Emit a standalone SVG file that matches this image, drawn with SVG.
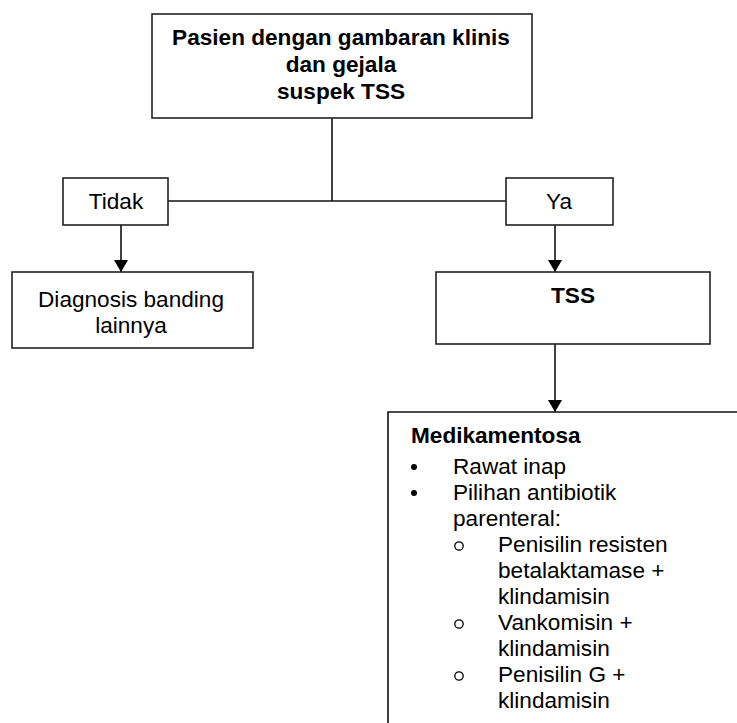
<svg xmlns="http://www.w3.org/2000/svg" width="737" height="723" viewBox="0 0 737 723">
  <style>
    .box { fill: #ffffff; stroke: #222222; stroke-width: 1.6; }
    .line { fill: none; stroke: #111111; stroke-width: 1.6; }
    .t { font-family: "Liberation Sans", Arial, sans-serif; font-size: 22.6px; fill: #000000; }
    .b { font-weight: bold; }
    .c { text-anchor: middle; }
  </style>
  <defs>
    <marker id="arrow" viewBox="0 0 12 14" refX="12" refY="7" markerWidth="12" markerHeight="14" markerUnits="userSpaceOnUse" orient="auto">
      <path d="M0,0 L12,7 L0,14 z" fill="#000000"/>
    </marker>
  </defs>
  <rect width="737" height="723" fill="#ffffff"/>

  <g id="connectors">
    <line class="line" x1="332" y1="118" x2="332" y2="201"/>
    <line class="line" x1="168" y1="201" x2="506" y2="201"/>
    <line class="line" x1="121" y1="225" x2="121" y2="272" marker-end="url(#arrow)"/>
    <line class="line" x1="555" y1="225" x2="555" y2="272" marker-end="url(#arrow)"/>
    <line class="line" x1="555" y1="344" x2="555" y2="412" marker-end="url(#arrow)"/>
  </g>

  <g id="start">
    <rect class="box" x="152" y="14" width="380" height="104"/>
    <text class="t b c" x="341" y="45">Pasien dengan gambaran klinis</text>
    <text class="t b c" x="341" y="72">dan gejala</text>
    <text class="t b c" x="341" y="99">suspek TSS</text>
  </g>

  <g id="tidak">
    <rect class="box" x="63" y="178" width="105" height="47"/>
    <text class="t c" x="116" y="209">Tidak</text>
  </g>

  <g id="ya">
    <rect class="box" x="506" y="178" width="107" height="47"/>
    <text class="t c" x="559" y="209">Ya</text>
  </g>

  <g id="diagnosis">
    <rect class="box" x="12" y="272" width="241" height="76"/>
    <text class="t c" x="131" y="307">Diagnosis banding</text>
    <text class="t c" x="131" y="333">lainnya</text>
  </g>

  <g id="tss">
    <rect class="box" x="436" y="272" width="274" height="72"/>
    <text class="t b c" x="573" y="303">TSS</text>
  </g>

  <g id="medikamentosa">
    <path class="line" d="M388,723 L388,412 L737,412"/>
    <text class="t b" x="411" y="443">Medikamentosa</text>
    <circle cx="414" cy="467" r="3" fill="#000000"/>
    <text class="t" x="453" y="474">Rawat inap</text>
    <circle cx="414" cy="493" r="3" fill="#000000"/>
    <text class="t" x="453" y="500">Pilihan antibiotik</text>
    <text class="t" x="453" y="526">parenteral:</text>
    <circle cx="459" cy="546" r="4.2" fill="none" stroke="#000000" stroke-width="1.3"/>
    <text class="t" x="498" y="552">Penisilin resisten</text>
    <text class="t" x="498" y="578">betalaktamase +</text>
    <text class="t" x="498" y="604">klindamisin</text>
    <circle cx="459" cy="624" r="4.2" fill="none" stroke="#000000" stroke-width="1.3"/>
    <text class="t" x="498" y="630">Vankomisin +</text>
    <text class="t" x="498" y="656">klindamisin</text>
    <circle cx="459" cy="676" r="4.2" fill="none" stroke="#000000" stroke-width="1.3"/>
    <text class="t" x="498" y="682">Penisilin G +</text>
    <text class="t" x="498" y="708">klindamisin</text>
  </g>
</svg>
